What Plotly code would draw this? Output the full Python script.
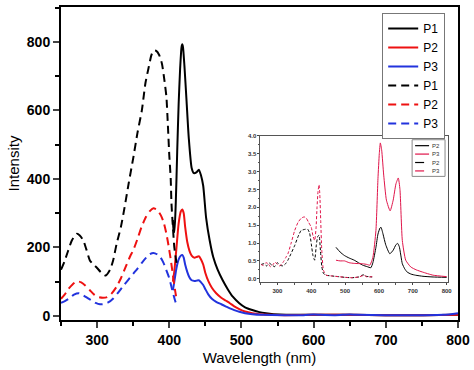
import plotly.graph_objects as go

# ---------------- main plot data ----------------
em_wl_p1 = [405, 406, 407, 409, 411, 413, 415, 417, 418, 419, 421, 424, 427, 431, 434, 438, 441, 444, 447, 451, 456, 461, 467, 474, 481, 488, 497, 505, 515, 525, 534, 553, 600, 650, 700, 750, 800]
em_p1 = [280, 250, 245, 330, 480, 620, 720, 785, 793, 785, 730, 625, 520, 432, 417, 420, 427, 410, 380, 287, 220, 171, 135, 104, 78, 56, 37, 25, 17, 11, 8, 4, 3, 3, 2, 2, 3]

em_wl_p2 = [405, 407, 410, 413, 416, 418, 420, 422, 425, 428, 431, 435, 438, 441, 444, 447, 450, 454, 459, 465, 472, 478, 484, 490, 497, 505, 515, 525, 540, 560, 600, 650, 700, 750, 800]
em_p2 = [100, 130, 200, 270, 305, 311, 300, 260, 215, 190, 176, 170, 172, 174, 165, 150, 125, 102, 82, 66, 53, 45, 37, 28, 20, 13, 8, 5, 3, 2, 3, 3, 2, 2, 3]

em_wl_p3 = [405, 407, 410, 413, 416, 418, 420, 422, 425, 428, 431, 435, 438, 441, 444, 447, 450, 454, 459, 465, 472, 478, 484, 490, 497, 505, 515, 530, 560, 580, 600, 610, 630, 650, 660, 700, 750, 780, 800]
em_p3 = [75, 100, 140, 165, 176, 178, 170, 150, 128, 112, 104, 102, 103, 104, 98, 90, 78, 63, 50, 41, 34, 28, 22, 17, 12, 8, 5, 3, 2, 2, 4, 3, 2, 4, 3, 2, 2, 3, 8]

ex_wl_p1 = [250, 255, 260, 265, 272, 276, 281, 285, 290, 295, 300, 305, 312, 318, 322, 327, 333, 338, 344, 350, 356, 362, 367, 371, 375, 378, 382, 386, 390, 393, 396, 398, 400, 402, 403, 405, 407, 410]
ex_p1 = [135, 160, 191, 220, 240, 235, 220, 195, 162, 150, 140, 128, 118, 135, 160, 210, 260, 316, 390, 460, 535, 600, 680, 721, 760, 775, 774, 762, 735, 692, 640, 560, 470, 400, 330, 260, 200, 155]

ex_wl_p2 = [250, 255, 260, 266, 272, 278, 284, 290, 296, 302, 308, 314, 320, 327, 333, 340, 346, 350, 356, 362, 368, 373, 378, 383, 388, 392, 396, 399, 402, 405, 408, 410]
ex_p2 = [50, 62, 78, 92, 101, 98, 88, 75, 62, 55, 53, 55, 65, 85, 110, 145, 175, 191, 225, 262, 290, 306, 314, 310, 295, 275, 240, 205, 165, 120, 75, 50]

ex_wl_p3 = [250, 256, 262, 268, 275, 281, 287, 293, 298, 304, 310, 316, 322, 330, 338, 345, 350, 356, 362, 368, 373, 378, 383, 388, 392, 396, 400, 403, 406, 408, 410]
ex_p3 = [38, 44, 52, 62, 66, 60, 52, 44, 38, 34, 35, 40, 50, 70, 92, 110, 123, 138, 155, 170, 180, 184, 180, 170, 155, 133, 110, 85, 60, 45, 32]

# ---------------- inset data ----------------
in_em_wl_p2 = [473, 485, 498, 512, 527, 552, 565, 576, 582, 591, 597, 603, 606, 612, 620, 632, 642, 650, 655, 660, 669, 676, 683, 695, 708, 730, 760, 800]
in_em_p2 = [0.88, 0.75, 0.65, 0.58, 0.52, 0.38, 0.34, 0.31, 0.45, 0.88, 1.25, 1.42, 1.44, 1.25, 0.95, 0.70, 0.80, 0.95, 0.99, 0.90, 0.42, 0.28, 0.19, 0.13, 0.10, 0.07, 0.05, 0.04]

in_em_wl_p3 = [473, 485, 498, 512, 527, 552, 565, 573, 582, 591, 597, 601, 604, 608, 614, 622, 633, 642, 650, 657, 662, 669, 679, 694, 710, 728, 760, 800]
in_em_p3 = [0.52, 0.50, 0.50, 0.45, 0.43, 0.42, 0.40, 0.38, 0.60, 1.35, 2.80, 3.50, 3.80, 3.60, 2.90, 2.20, 1.90, 2.20, 2.65, 2.82, 2.50, 1.07, 0.52, 0.33, 0.25, 0.19, 0.10, 0.06]

in_ex_wl_p2 = [252, 260, 268, 276, 284, 292, 300, 308, 316, 324, 331, 340, 351, 361, 370, 380, 389, 395, 400, 405, 410, 415, 419, 423, 427, 431, 436, 444, 460, 480, 500, 520, 540, 550, 556, 562, 570, 580]
in_ex_p2 = [0.40, 0.42, 0.36, 0.44, 0.38, 0.34, 0.45, 0.38, 0.36, 0.42, 0.52, 0.70, 0.93, 1.18, 1.35, 1.38, 1.39, 1.28, 0.98, 0.65, 0.52, 0.95, 1.18, 1.22, 0.80, 0.35, 0.15, 0.10, 0.08, 0.06, 0.04, 0.03, 0.05, 0.10, 0.11, 0.07, 0.06, 0.05]

in_ex_wl_p3 = [252, 258, 266, 273, 280, 287, 293, 300, 306, 312, 318, 325, 331, 340, 351, 361, 371, 379, 385, 392, 400, 405, 410, 414, 417, 420, 423, 425, 428, 431, 436, 444, 460, 480, 500, 520, 540, 550, 556, 562, 570, 580]
in_ex_p3 = [0.40, 0.37, 0.45, 0.42, 0.33, 0.40, 0.47, 0.40, 0.36, 0.40, 0.48, 0.60, 0.70, 0.98, 1.35, 1.58, 1.70, 1.73, 1.70, 1.58, 1.44, 1.20, 1.07, 1.40, 2.00, 2.45, 2.63, 2.40, 1.60, 0.80, 0.24, 0.10, 0.08, 0.06, 0.04, 0.03, 0.05, 0.08, 0.10, 0.06, 0.05, 0.06]

x_ticks = [300, 400, 500, 600, 700, 800]
y_ticks = [0, 200, 400, 600, 800]
inset_y_ticks = [0.0, 0.5, 1.0, 1.5, 2.0, 2.5, 3.0, 3.5, 4.0]

BLACK = "#000000"
RED = "#ee1111"
BLUE = "#2233dd"
IRED = "#e0154a"
FONT = "Arial, Liberation Sans, sans-serif"
DASH = "8px,5px"

fig = go.Figure()

main_series = [
    (em_wl_p1, em_p1, BLACK, "solid", "P1"),
    (em_wl_p2, em_p2, RED, "solid", "P2"),
    (em_wl_p3, em_p3, BLUE, "solid", "P3"),
    (ex_wl_p1, ex_p1, BLACK, DASH, "P1"),
    (ex_wl_p2, ex_p2, RED, DASH, "P2"),
    (ex_wl_p3, ex_p3, BLUE, DASH, "P3"),
]
for xs, ys, col, dash, name in main_series:
    fig.add_trace(go.Scatter(x=xs, y=ys, mode="lines", name=name,
                             line=dict(color=col, width=2, dash=dash, shape="spline", smoothing=0.6),
                             xaxis="x", yaxis="y"))

inset_series = [
    (in_em_wl_p2, in_em_p2, BLACK, "solid"),
    (in_em_wl_p3, in_em_p3, IRED, "solid"),
    (in_ex_wl_p2, in_ex_p2, BLACK, "3px,2px"),
    (in_ex_wl_p3, in_ex_p3, IRED, "3px,2px"),
]
for xs, ys, col, dash in inset_series:
    fig.add_trace(go.Scatter(x=xs, y=ys, mode="lines", showlegend=False,
                             line=dict(color=col, width=1, dash=dash, shape="spline", smoothing=0.5),
                             xaxis="x2", yaxis="y2"))

# inset legend (drawn manually so it can be compact)
inset_leg_labels = ["P2", "P3", "P2", "P3"]
inset_leg_styles = [(BLACK, "solid"), (IRED, "solid"), (BLACK, "dash"), (IRED, "dash")]
shapes = [dict(type="rect", xref="paper", yref="paper", x0=(413 - 61) / 398, x1=(446 - 61) / 398,
               y0=(320 - 175) / 316, y1=(320 - 138) / 316, line=dict(color="#888888", width=1),
               fillcolor="white", layer="above")]
annotations = []
for i, (lab, (col, dsh)) in enumerate(zip(inset_leg_labels, inset_leg_styles)):
    ypx = 144 + i * 8.5
    yp = (320 - ypx) / 316
    shapes.append(dict(type="line", xref="paper", yref="paper", x0=(416 - 61) / 398, x1=(430 - 61) / 398,
                       y0=yp, y1=yp, line=dict(color=col, width=1.2, dash=dsh), layer="above"))
    annotations.append(dict(text=lab, xref="paper", yref="paper", x=(431 - 61) / 398, y=yp,
                            xanchor="left", yanchor="middle", showarrow=False,
                            font=dict(family=FONT, size=6, color="#333333")))

fig.update_layout(
    width=474, height=370,
    margin=dict(l=61, r=15, t=4, b=50),
    paper_bgcolor="white", plot_bgcolor="white",
    font=dict(family=FONT, color="black"),
    showlegend=True,
    legend=dict(x=(383 - 61) / 398, y=(320 - 10) / 316, xanchor="left", yanchor="top",
                bordercolor="#777777", borderwidth=1, bgcolor="white",
                font=dict(family=FONT, size=12, color="black"),
                tracegroupgap=0, itemwidth=30),
    xaxis=dict(domain=[0, 1], range=[250, 800], tickvals=x_ticks, ticks="outside", ticklen=6, tickwidth=2,
               showline=True, linecolor="black", linewidth=2, mirror=True, showgrid=False, zeroline=False,
               tickfont=dict(family=FONT, size=14, weight="bold"),
               minor=dict(dtick=50, tick0=250, ticks="outside", ticklen=4, tickwidth=1.5, tickcolor="black"),
               title=dict(text="Wavelength (nm)", font=dict(family=FONT, size=15), standoff=6)),
    yaxis=dict(domain=[0, 1], range=[-12, 902], tickvals=y_ticks, ticks="outside", ticklen=6, tickwidth=2,
               showline=True, linecolor="black", linewidth=2, mirror=True, showgrid=False, zeroline=False,
               tickfont=dict(family=FONT, size=14, weight="bold"),
               minor=dict(dtick=100, tick0=0, ticks="outside", ticklen=4, tickwidth=1.5, tickcolor="black"),
               title=dict(text="Intensity", font=dict(family=FONT, size=15), standoff=4)),
    xaxis2=dict(domain=[(261 - 61) / 398, (449 - 61) / 398], anchor="y2", range=[250, 804],
                tickvals=x_ticks, ticks="outside", ticklen=2, tickwidth=1,
                showline=True, linecolor="#555555", linewidth=1, mirror=True, showgrid=False, zeroline=False,
                tickfont=dict(family=FONT, size=6, weight="bold", color="#333333"),
                minor=dict(dtick=50, tick0=250, ticks="outside", ticklen=1.5, tickcolor="#555555")),
    yaxis2=dict(domain=[(320 - 282) / 316, (320 - 134) / 316], anchor="x2", range=[-0.1, 4.0],
                tickvals=inset_y_ticks, tickformat=".1f", ticks="outside", ticklen=2, tickwidth=1,
                showline=True, linecolor="#555555", linewidth=1, mirror=True, showgrid=False, zeroline=False,
                tickfont=dict(family=FONT, size=6, weight="bold", color="#333333"),
                minor=dict(dtick=0.25, ticks="outside", ticklen=1.5, tickcolor="#555555")),
    shapes=shapes,
    annotations=annotations,
)

fig.write_html("out.html", config={"displayModeBar": False},
               post_script="document.body.style.margin='0';document.body.style.padding='0';document.body.style.overflow='hidden';")
